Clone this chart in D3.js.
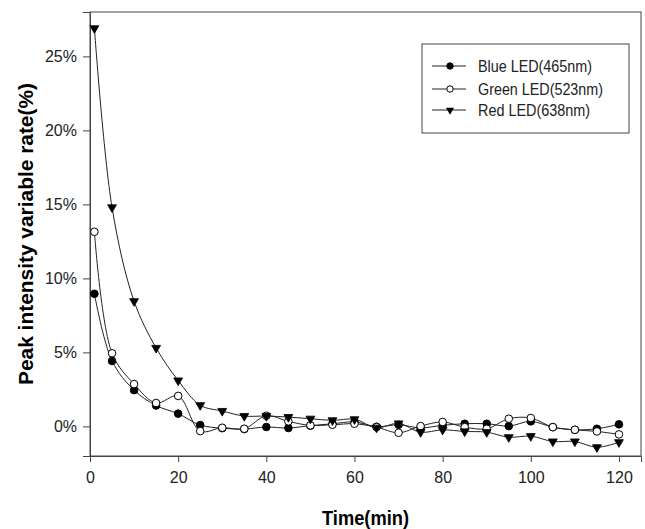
<!DOCTYPE html>
<html><head><meta charset="utf-8">
<script src="https://cdn.jsdelivr.net/npm/d3@7"></script>
<style>body{margin:0;background:#fff}svg{display:block}text{font-family:Arial,"Liberation Sans",sans-serif}</style>
</head><body><svg id="c" width="645" height="529"></svg>
<script>
const times = [1,5,10,15,20,25,30,35,40,45,50,55,60,65,70,75,80,85,90,95,100,105,110,115,120];
const blueVals = [8.96,4.42,2.45,1.41,0.86,0.09,-0.12,-0.18,-0.04,-0.11,0.05,0.18,0.3,-0.02,0.11,-0.1,0.07,0.18,0.18,0.02,0.34,-0.05,-0.23,-0.16,0.14];
const greenVals = [13.15,4.94,2.86,1.58,2.06,-0.32,-0.09,-0.16,0.72,0.34,0.07,0.11,0.18,-0.05,-0.43,0.02,0.3,-0.05,-0.16,0.52,0.57,-0.05,-0.23,-0.34,-0.54];
const redVals = [26.9,14.8,8.46,5.3,3.1,1.43,1.04,0.7,0.7,0.63,0.52,0.41,0.48,-0.09,0.2,-0.39,-0.23,-0.34,-0.39,-0.73,-0.66,-1.02,-1.02,-1.41,-1.07];
const seriesNames = ["Blue LED(465nm)","Green LED(523nm)","Red LED(638nm)"];
const xTicks = [0,20,40,60,80,100,120];
const yTicks = [0,5,10,15,20,25];

const svg = d3.select("#c");
const L=90,R=641,T=12,B=456;
const x = d3.scaleLinear().domain([0,125]).range([L,R]);
const y = d3.scaleLinear().domain([-2,28]).range([B,T]);

// frame
svg.append("rect").attr("x",L).attr("y",T).attr("width",R-L).attr("height",B-T)
  .attr("fill","none").attr("stroke","#444").attr("stroke-width",1);

const xa = svg.append("g").attr("transform",`translate(0,${B})`)
  .call(d3.axisBottom(x).tickValues(xTicks).tickSize(6).tickPadding(10).tickFormat(d3.format("d")));
const ya = svg.append("g").attr("transform",`translate(${L},0)`)
  .call(d3.axisLeft(y).tickValues(yTicks).tickSize(7).tickPadding(6).tickFormat(d=>d+"%"));
[xa,ya].forEach(a=>{
  a.select(".domain").attr("stroke","#444");
  a.selectAll(".tick line").attr("stroke","#444");
  a.selectAll(".tick text").attr("font-size",16).attr("fill","#222").attr("font-family","Arial, 'Liberation Sans', sans-serif");
});

const seriesVals=[blueVals,greenVals,redVals];
const fills=["#000","#fff","#000"];
const line = d3.line().x(d=>x(d[0])).y(d=>y(d[1])).curve(d3.curveCatmullRom.alpha(0.5));
const tri = d3.symbol().type(d3.symbolTriangle).size(34);

seriesVals.forEach((vals,i)=>{
  const pts = times.map((t,j)=>[t,vals[j]]);
  svg.append("path").datum(pts).attr("d",line).attr("fill","none").attr("stroke","#222").attr("stroke-width",1);
  const g = svg.append("g");
  if(i<2){
    g.selectAll("circle").data(pts).join("circle")
      .attr("cx",d=>x(d[0])).attr("cy",d=>y(d[1])).attr("r",3.8)
      .attr("fill",fills[i]).attr("stroke","#000").attr("stroke-width",1);
  } else {
    g.selectAll("path").data(pts).join("path").attr("d",tri)
      .attr("transform",d=>`translate(${x(d[0])},${y(d[1])}) rotate(180)`)
      .attr("fill","#000").attr("stroke","#000").attr("stroke-width",0.8);
  }
});

// legend
const lg = svg.append("g");
lg.append("rect").attr("x",422).attr("y",44).attr("width",207).attr("height",89)
  .attr("fill","#fff").attr("stroke","#444").attr("stroke-width",1);
const ly=[66,89,110], tl=[114,125,112];
seriesNames.forEach((n,i)=>{
  lg.append("line").attr("x1",432).attr("x2",466).attr("y1",ly[i]).attr("y2",ly[i]).attr("stroke","#222");
  if(i<2) lg.append("circle").attr("cx",450).attr("cy",ly[i]).attr("r",3.2).attr("fill",fills[i]).attr("stroke","#000");
  else lg.append("path").attr("d",d3.symbol().type(d3.symbolTriangle).size(28)).attr("transform",`translate(450,${ly[i]}) rotate(180)`).attr("fill","#000");
  lg.append("text").attr("x",478).attr("y",ly[i]).attr("dy","0.36em").attr("font-size",16).attr("fill","#222")
    .attr("textLength",tl[i]).attr("lengthAdjust","spacingAndGlyphs").text(n);
});

// axis titles
svg.append("text").attr("x",(L+R)/2).attr("y",525).attr("text-anchor","middle").attr("font-size",21).attr("font-weight","bold")
  .attr("textLength",87).attr("lengthAdjust","spacingAndGlyphs").text("Time(min)");
svg.append("text").attr("transform",`translate(33,${(T+B)/2}) rotate(-90)`).attr("text-anchor","middle").attr("font-size",21).attr("font-weight","bold")
  .attr("textLength",302).attr("lengthAdjust","spacingAndGlyphs").text("Peak intensity variable rate(%)");
</script></body></html>
